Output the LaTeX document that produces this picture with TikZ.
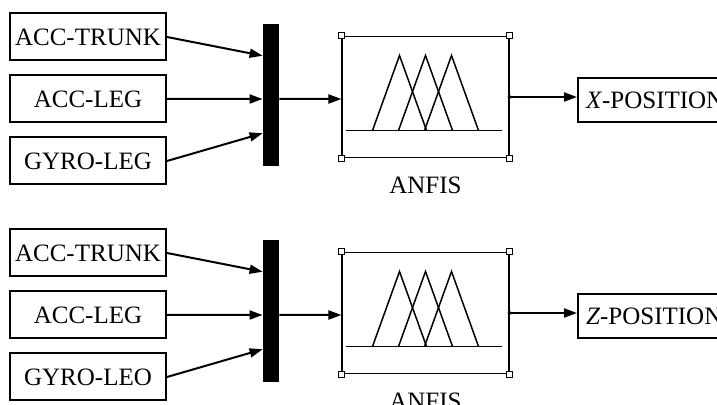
\documentclass[tikz,border=0pt]{standalone}
\usepackage{fontspec}
\setmainfont{Liberation Serif}
\usetikzlibrary{arrows.meta, positioning, calc}
\tikzset{
  sensor/.style={rectangle, draw, line width=1pt, minimum width=78pt,
    minimum height=23.5pt, inner sep=0pt, font=\fontsize{12.5}{15}\selectfont},
  muxbar/.style={rectangle, fill=black, minimum width=8pt,
    minimum height=71pt, inner sep=0pt},
  anfisbox/.style={rectangle, draw, line width=0.6pt, minimum width=83.5pt,
    minimum height=60.5pt, inner sep=0pt},
  port/.style={rectangle, draw, fill=white, line width=0.5pt,
    minimum size=3pt, inner sep=0pt},
  outbox/.style={rectangle, draw, line width=1pt, minimum height=22pt,
    inner xsep=4pt, inner ysep=0pt, anchor=west, font=\fontsize{12.5}{15}\selectfont},
  label/.style={font=\fontsize{12.5}{15}\selectfont},
  arrow/.style={-{Triangle[length=6.5pt,width=4.5pt]}, line width=1pt},
  mf/.style={line width=0.75pt}
}
\begin{document}
\begin{tikzpicture}[x=0.5pt, y=-0.5pt]
  \useasboundingbox (0,0) rectangle (717,405);
  % Upper model
  \node[sensor] (trunk1) at (88,37) {ACC-TRUNK};
  \node[sensor, below=6.5pt of trunk1] (leg1) {ACC-LEG};
  \node[sensor, below=6.5pt of leg1] (gyro1) {GYRO-LEG};
  \node[muxbar] (mux1) at (271,95) {};
  \node[anfisbox] (anfis1) at (425.5,97) {};
  \node[label, below=6pt of anfis1] (lbl1) {ANFIS};
  \node[outbox] (xpos) at (577,100) {\textit{X}-POSITION};

  \draw[arrow] (trunk1.east) -- ($(mux1.north west)!0.225!(mux1.south west)$);
  \draw[arrow] (leg1.east)   -- ($(mux1.north west)!0.528!(mux1.south west)$);
  \draw[arrow] (gyro1.east)  -- ($(mux1.north west)!0.768!(mux1.south west)$);
  \draw[arrow] ($(mux1.north east)!0.528!(mux1.south east)$) -- (anfis1.west |- leg1.east);
  \draw[arrow] (anfis1.east) -- (anfis1.east -| xpos.west);
  \draw[line width=0.5pt] (anfis1.east) circle (1.5);
  % membership functions
  \draw[mf] ($(anfis1)+(-79.5,33.5)$) -- ($(anfis1)+(76.5,33.5)$);
  \foreach \p in {-26,0,26}
    \draw[mf] ($(anfis1)+(\p-27,33.5)$) -- ($(anfis1)+(\p,-41.5)$) -- ($(anfis1)+(\p+27,33.5)$);
  \foreach \c in {north west, north east, south west, south east}
    \node[port] at (anfis1.\c) {};

  % Lower model
  \node[sensor] (trunk2) at (88,253) {ACC-TRUNK};
  \node[sensor, below=6.5pt of trunk2] (leg2) {ACC-LEG};
  \node[sensor, below=6.5pt of leg2] (gyro2) {GYRO-LEO};
  \node[muxbar] (mux2) at (271,311) {};
  \node[anfisbox] (anfis2) at (425.5,313) {};
  \node[label, below=6pt of anfis2] (lbl2) {ANFIS};
  \node[outbox] (zpos) at (577,316) {\textit{Z}-POSITION};

  \draw[arrow] (trunk2.east) -- ($(mux2.north west)!0.225!(mux2.south west)$);
  \draw[arrow] (leg2.east)   -- ($(mux2.north west)!0.528!(mux2.south west)$);
  \draw[arrow] (gyro2.east)  -- ($(mux2.north west)!0.768!(mux2.south west)$);
  \draw[arrow] ($(mux2.north east)!0.528!(mux2.south east)$) -- (anfis2.west |- leg2.east);
  \draw[arrow] (anfis2.east) -- (anfis2.east -| zpos.west);
  \draw[line width=0.5pt] (anfis2.east) circle (1.5);
  % membership functions
  \draw[mf] ($(anfis2)+(-79.5,33.5)$) -- ($(anfis2)+(76.5,33.5)$);
  \foreach \p in {-26,0,26}
    \draw[mf] ($(anfis2)+(\p-27,33.5)$) -- ($(anfis2)+(\p,-41.5)$) -- ($(anfis2)+(\p+27,33.5)$);
  \foreach \c in {north west, north east, south west, south east}
    \node[port] at (anfis2.\c) {};
\end{tikzpicture}
\end{document}
